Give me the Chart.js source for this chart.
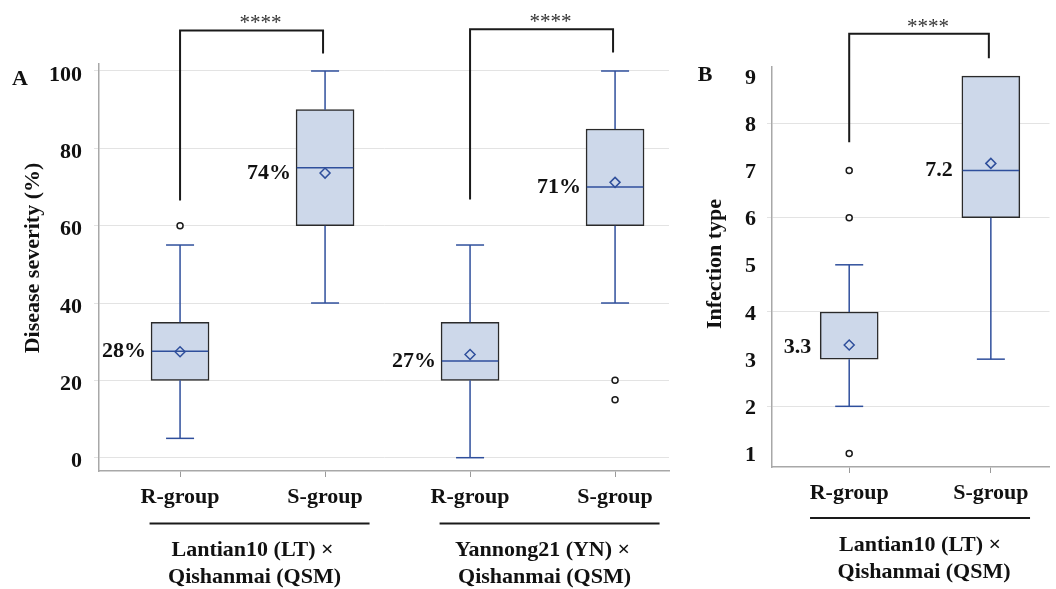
<!DOCTYPE html>
<html>
<head>
<meta charset="utf-8">
<script src="https://cdn.jsdelivr.net/npm/chart.js@4.4.1/dist/chart.umd.min.js"></script>
<style>
  body { margin: 0; background: #fff; }
  #wrap { position: relative; width: 1056px; height: 589px; overflow: hidden; }
  canvas { position: absolute; top: 0; }
  #severityChart { left: 0; }
  #infectionChart { left: 690px; }
</style>
</head>
<body>
<div id="wrap">
  <canvas id="severityChart" width="690" height="589"></canvas>
  <canvas id="infectionChart" width="366" height="589"></canvas>
</div>
<script>
// Panel A - disease severity (%)
const severityGroups = ['R-group', 'S-group', 'R-group', 'S-group'];
const severityLow = [5, 40, 0, 40];
const severityQ1 = [20, 60, 20, 60];
const severityMedian = [27.5, 75, 25, 70];
const severityQ3 = [35, 90, 35, 85];
const severityHigh = [55, 100, 55, 100];
const severityMean = [27.4, 73.6, 26.7, 71.2];
const severityOutliers = [[60], [], [], [20, 15]];
const severityLabels = ['28%', '74%', '27%', '71%'];
const severityLabelAt = [27.5, 73.6, 25, 70];
const severityTicks = [0, 20, 40, 60, 80, 100];
const severityCrosses = [
    ['Lantian10 (LT) ×', 'Qishanmai (QSM)'],
    ['Yannong21 (YN) ×', 'Qishanmai (QSM)']
];

// Panel B - infection type
const infectionGroups = ['R-group', 'S-group'];
const infectionLow = [2, 3];
const infectionQ1 = [3, 6];
const infectionMedian = [3, 7];
const infectionQ3 = [4, 9];
const infectionHigh = [5, 9];
const infectionMean = [3.3, 7.15];
const infectionOutliers = [[7, 6, 1], []];
const infectionLabels = ['3.3', '7.2'];
const infectionLabelAt = [3.25, 7];
const infectionTicks = [1, 2, 3, 4, 5, 6, 7, 8, 9];
const infectionCrosses = [['Lantian10 (LT) ×', 'Qishanmai (QSM)']];

const SERIF = '"Liberation Serif", "Times New Roman", serif';
const BOX_FILL = '#cdd8ea';
const BOX_EDGE = '#2a2a2a';
const BLUE = '#2f4f9c';
const GRID = '#e3e3e3';
const AXIS = '#a8a8a8';
const INK = '#111';

// whiskers, caps and median, drawn right after the boxes
const whiskerPlugin = {
    id: 'whiskers',
    afterDatasetDraw(chart, args) {
        if (args.meta.type !== 'bar') return;
        const s = chart.data.datasets[args.index].stats;
        const { ctx } = chart;
        const x = chart.scales.x, y = chart.scales.y;
        const capHalf = 14;
        const seg = (x1, y1, x2, y2) => {
            ctx.beginPath();
            ctx.moveTo(x1, y1);
            ctx.lineTo(x2, y2);
            ctx.stroke();
        };
        ctx.save();
        ctx.strokeStyle = BLUE;
        ctx.lineWidth = 1.5;
        s.low.forEach((lo, i) => {
            const cx = x.getPixelForValue(i);
            const half = args.meta.data[i].width / 2 - 0.75;
            [[s.low[i], s.q1[i]], [s.high[i], s.q3[i]]].forEach(([end, edge]) => {
                if (end === edge) return;
                const yEnd = y.getPixelForValue(end);
                seg(cx, y.getPixelForValue(edge), cx, yEnd);
                seg(cx - capHalf, yEnd, cx + capHalf, yEnd);
            });
            if (s.median[i] !== s.q1[i] && s.median[i] !== s.q3[i]) {
                const ym = y.getPixelForValue(s.median[i]);
                seg(cx - half, ym, cx + half, ym);
            }
        });
        ctx.restore();
    }
};

// labels beside the boxes, significance brackets, group captions
function notesPlugin(cfg) {
    return {
        id: 'notes',
        afterDraw(chart) {
            const { ctx } = chart;
            const x = chart.scales.x, y = chart.scales.y;
            const bars = chart.getDatasetMeta(0).data;
            ctx.save();
            ctx.fillStyle = INK;
            ctx.font = 'bold 22px ' + SERIF;
            ctx.textAlign = 'right';
            ctx.textBaseline = 'middle';
            cfg.labels.forEach((text, i) => {
                const left = bars[i].x - bars[i].width / 2;
                ctx.fillText(text, left - cfg.labelGap, y.getPixelForValue(cfg.labelAt[i]));
            });

            // brackets with stars
            ctx.strokeStyle = '#1a1a1a';
            ctx.lineWidth = 2;
            cfg.brackets.forEach(b => {
                const x1 = x.getPixelForValue(b.from);
                const x2 = x.getPixelForValue(b.to) - 2;
                const top = y.getPixelForValue(b.top);
                ctx.beginPath();
                ctx.moveTo(x1, y.getPixelForValue(b.leftEnd));
                ctx.lineTo(x1, top);
                ctx.lineTo(x2, top);
                ctx.lineTo(x2, y.getPixelForValue(b.rightEnd));
                ctx.stroke();
                ctx.font = '21px ' + SERIF;
                ctx.fillStyle = '#333';
                ctx.textAlign = 'center';
                ctx.textBaseline = 'alphabetic';
                ctx.fillText('****', (x1 + x2) / 2 + 9, top - 1);
            });

            // cross captions under the axis
            ctx.fillStyle = INK;
            ctx.font = 'bold 22px ' + SERIF;
            ctx.textAlign = 'center';
            ctx.textBaseline = 'middle';
            cfg.crosses.forEach((lines, k) => {
                const g = cfg.crossAt[k];
                const cx = (x.getPixelForValue(g[0]) + x.getPixelForValue(g[1])) / 2;
                const lx = cx + cfg.ruleShift;
                ctx.beginPath();
                ctx.moveTo(lx - 110, cfg.ruleY);
                ctx.lineTo(lx + 110, cfg.ruleY);
                ctx.stroke();
                lines.forEach((t, j) => ctx.fillText(t, cx + cfg.textShift[j], cfg.textY[j]));
            });

            // panel letter and axis title
            ctx.textAlign = 'center';
            ctx.fillText(cfg.letter, cfg.letterPos[0], cfg.letterPos[1]);
            ctx.translate(cfg.titlePos[0], cfg.titlePos[1]);
            ctx.rotate(-Math.PI / 2);
            ctx.fillText(cfg.title, 0, 0);
            ctx.restore();
        }
    };
}

function boxPlotChart(canvasId, d, look, notes) {
    const bold = { family: SERIF, size: 22, weight: 'bold' };
    return new Chart(document.getElementById(canvasId), {
        type: 'bar',
        data: {
            datasets: [
                {
                    type: 'bar',
                    data: d.groups.map((g, i) => ({ x: i, y: [d.q1[i], d.q3[i]] })),
                    stats: { low: d.low, q1: d.q1, median: d.median, q3: d.q3, high: d.high },
                    backgroundColor: BOX_FILL,
                    borderColor: BOX_EDGE,
                    borderWidth: 1.5,
                    borderSkipped: false,
                    barThickness: 58,
                    order: 2
                },
                {
                    type: 'scatter',
                    data: d.mean.map((v, i) => ({ x: i, y: v })),
                    pointStyle: 'rectRot',
                    radius: 5,
                    borderColor: BLUE,
                    borderWidth: 1.5,
                    backgroundColor: 'rgba(0,0,0,0)',
                    order: 1
                },
                {
                    type: 'scatter',
                    data: d.outliers.flatMap((list, i) => list.map(v => ({ x: i, y: v }))),
                    pointStyle: 'circle',
                    radius: 3,
                    borderColor: '#1a1a1a',
                    borderWidth: 1.5,
                    backgroundColor: '#fff',
                    order: 1
                }
            ]
        },
        options: {
            responsive: false,
            animation: false,
            events: [],
            layout: { padding: look.padding },
            plugins: { legend: { display: false }, tooltip: { enabled: false } },
            scales: {
                x: {
                    type: 'linear',
                    offset: false,
                    bounds: 'data',
                    min: look.xMin,
                    max: look.xMax,
                    afterBuildTicks: s => { s.ticks = d.groups.map((g, i) => ({ value: i })); },
                    afterFit: s => { s.height = look.xHeight; s.paddingLeft = 0; s.paddingRight = 0; },
                    grid: { offset: false, drawOnChartArea: false, color: '#9a9a9a', tickLength: 6 },
                    border: { color: AXIS, width: 1.5 },
                    ticks: {
                        autoSkip: false,
                        maxRotation: 0,
                        padding: 7,
                        color: INK,
                        font: bold,
                        callback: v => d.groups[v]
                    }
                },
                y: {
                    min: look.yMin,
                    max: look.yMax,
                    afterBuildTicks: s => { s.ticks = d.ticks.map(v => ({ value: v })); },
                    afterFit: s => { s.width = look.yWidth; s.paddingTop = 0; s.paddingBottom = 0; },
                    grid: { color: look.gridColor, tickLength: 5 },
                    border: { color: AXIS, width: 1.5 },
                    ticks: {
                        padding: look.tickPad,
                        labelOffset: look.labelOffset,
                        color: INK,
                        font: bold
                    }
                }
            }
        },
        plugins: [whiskerPlugin, notesPlugin(notes)]
    });
}

boxPlotChart('severityChart', {
    groups: severityGroups, low: severityLow, q1: severityQ1, median: severityMedian,
    q3: severityQ3, high: severityHigh, mean: severityMean, outliers: severityOutliers,
    ticks: severityTicks
}, {
    padding: { top: 64, right: 21, left: 0, bottom: 0 },
    xMin: -0.559, xMax: 3.372, yMin: -3.44, yMax: 101.81,
    xHeight: 118, yWidth: 99, tickPad: 12, labelOffset: 4,
    gridColor: GRID
}, {
    labels: severityLabels, labelAt: severityLabelAt, labelGap: 5,
    brackets: [
        { from: 0, to: 1, top: 110.5, leftEnd: 66.5, rightEnd: 104.5 },
        { from: 2, to: 3, top: 110.8, leftEnd: 66.8, rightEnd: 104.8 }
    ],
    crosses: severityCrosses, crossAt: [[0, 1], [2, 3]],
    ruleY: 523.5, ruleShift: 7, textShift: [0, 2], textY: [550, 577],
    letter: 'A', letterPos: [20, 79],
    title: 'Disease severity (%)', titlePos: [33, 258]
});

boxPlotChart('infectionChart', {
    groups: infectionGroups, low: infectionLow, q1: infectionQ1, median: infectionMedian,
    q3: infectionQ3, high: infectionHigh, mean: infectionMean, outliers: infectionOutliers,
    ticks: infectionTicks
}, {
    padding: { top: 67, right: 0, left: 0, bottom: 0 },
    xMin: -0.545, xMax: 1.414, yMin: 0.714, yMax: 9.193,
    xHeight: 122, yWidth: 82, tickPad: 11, labelOffset: 2,
    gridColor: c => (c.tick && c.tick.value % 2 === 0 ? GRID : 'rgba(0,0,0,0)')
}, {
    labels: infectionLabels, labelAt: infectionLabelAt, labelGap: 9,
    brackets: [{ from: 0, to: 1, top: 9.9, leftEnd: 7.6, rightEnd: 9.38 }],
    crosses: infectionCrosses, crossAt: [[0, 1]],
    ruleY: 518, ruleShift: 0, textShift: [0, 4], textY: [545, 572],
    letter: 'B', letterPos: [15, 75],
    title: 'Infection type', titlePos: [25, 264]
});
</script>
</body>
</html>
